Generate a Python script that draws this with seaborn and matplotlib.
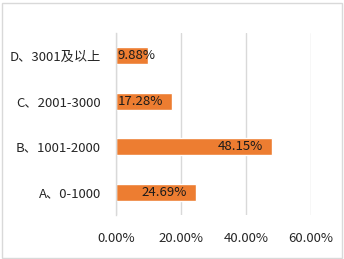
import matplotlib
matplotlib.use("Agg")
import matplotlib.pyplot as plt
from matplotlib.patches import Rectangle
import seaborn as sns
import pandas as pd

# chart data
categories = ["D、3001及以上", "C、2001-3000", "B、1001-2000", "A、0-1000"]
shares = [0.0988, 0.1728, 0.4815, 0.2469]
x_ticks = [0.0, 0.2, 0.4, 0.6]

sns.set_theme(style="white")
plt.rcParams['font.family'] = ['Noto Sans CJK SC', 'DejaVu Sans']

df = pd.DataFrame({"category": categories, "share": shares})

fig = plt.figure(figsize=(3.44, 2.59), dpi=100)
ax = fig.add_axes([116 / 344, 1 - 215 / 259, 195 / 344, 182 / 259])

sns.barplot(data=df, x="share", y="category", order=categories, orient="h",
            color="#ED7D31", saturation=1, width=0.38, ax=ax)

ax.set_xlim(0, 0.6)
ax.set_ylim(3.5, -0.5)
ax.set_xticks(x_ticks)
ax.set_xticklabels(["{:.2f}%".format(t * 100) for t in x_ticks])
ax.set_xlabel("")
ax.set_ylabel("")
ax.grid(axis="x", color="#d9d9d9", linewidth=1)
ax.set_axisbelow(True)
for s in ["top", "right", "bottom"]:
    ax.spines[s].set_visible(False)
ax.spines["left"].set_color("#d9d9d9")
ax.spines["left"].set_linewidth(1)
ax.tick_params(axis="both", length=0, labelsize=9.5, colors="#262626")
ax.tick_params(axis="y", pad=11)
ax.tick_params(axis="x", pad=12)

# data labels inside end of bars; shift to bar start if they don't fit
fig.canvas.draw()
renderer = fig.canvas.get_renderer()
for i, v in enumerate(shares):
    t = ax.annotate("{:.2f}%".format(v * 100), xy=(v, i), xytext=(-6.5, 0),
                    textcoords="offset points", ha="right", va="center",
                    fontsize=9.5, color="#1a1a1a")
    bb = t.get_window_extent(renderer)
    x0 = ax.transData.transform((0, i))[0]
    if bb.x0 < x0:
        t.remove()
        ax.annotate("{:.2f}%".format(v * 100), xy=(0, i), xytext=(1, 0),
                    textcoords="offset points", ha="left", va="center",
                    fontsize=9.5, color="#1a1a1a")

# light frame around the chart area
fig.patches.append(Rectangle((1.5 / 344, 1.5 / 259), 340 / 344, 255 / 259,
                             transform=fig.transFigure, fill=False,
                             edgecolor="#d9d9d9", linewidth=1))

fig.savefig("out.png", dpi=100)
